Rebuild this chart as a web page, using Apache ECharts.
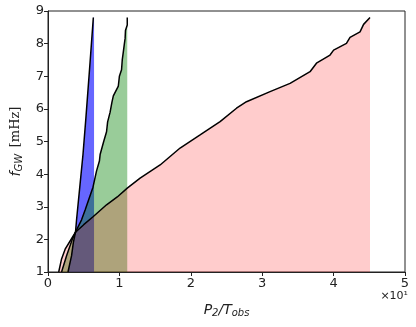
<!DOCTYPE html>
<html>
<head>
<meta charset="utf-8">
<script src="https://cdn.jsdelivr.net/npm/echarts@6/dist/echarts.min.js"></script>
<style>
  html, body { margin: 0; padding: 0; background: #fff; }
  #chart { width: 416px; height: 327px; }
</style>
</head>
<body>
<div id="chart"></div>
<script>
// x values are P2/Tobs (axis shows them x10^1), f values in mHz
const xTicks = [0, 10, 20, 30, 40, 50]
const fTicks = [1, 2, 3, 4, 5, 6, 7, 8, 9]

const blueF = [1.0, 1.5, 1.9, 2.22, 2.6, 3.6, 4.6, 5.7, 7.45, 8.8]
const blueX = [2.8, 3.3, 3.55, 3.85, 4.0, 4.45, 4.9, 5.3, 5.9, 6.35]
const blueEdge = 6.45

const greenF = [1.0, 1.5, 2.0, 2.22, 2.6, 2.9, 3.6, 4.1, 4.4, 4.6, 5.0, 5.3, 5.6, 5.9, 6.2, 6.4, 6.7, 7.0, 7.2, 7.5, 7.75, 8.0, 8.16, 8.4, 8.57, 8.8]
const greenX = [1.9, 2.6, 3.4, 3.85, 4.7, 5.2, 6.3, 6.8, 7.2, 7.3, 7.8, 8.2, 8.35, 8.7, 8.95, 9.15, 9.85, 10.0, 10.3, 10.4, 10.55, 10.7, 10.8, 10.85, 11.1, 11.1]
const greenEdge = 11.1

const redF = [1.0, 1.4, 1.7, 1.95, 2.22, 2.45, 2.7, 3.06, 3.3, 3.57, 3.88, 4.28, 4.8, 5.2, 5.61, 6.02, 6.22, 6.53, 6.78, 7.14, 7.4, 7.65, 7.8, 8.01, 8.19, 8.36, 8.59, 8.8]
const redX = [1.5, 1.9, 2.4, 3.1, 3.85, 5.0, 6.35, 8.2, 9.7, 11.1, 12.9, 15.7, 18.5, 21.3, 24.1, 26.4, 27.8, 31.1, 33.9, 36.7, 37.6, 39.5, 40.0, 41.8, 42.3, 43.7, 44.2, 45.1]
const redEdge = 45.1

const font = 'DejaVu Sans'

// region between the curve and its right edge, like fill_betweenx
function fillSeries(xs, fs, edge, color) {
  return {
    type: 'custom',
    coordinateSystem: 'cartesian2d',
    silent: true,
    data: [[xs[0], fs[0]]],
    renderItem: function (params, api) {
      const pts = xs.map((x, i) => api.coord([x, fs[i]]))
      pts.push(api.coord([edge, fs[fs.length - 1]]))
      pts.push(api.coord([edge, fs[0]]))
      return { type: 'polygon', shape: { points: pts }, style: { fill: color } }
    },
    z: 2
  }
}

function lineSeries(xs, fs) {
  return {
    type: 'line',
    data: xs.map((x, i) => [x, fs[i]]),
    symbol: 'none',
    silent: true,
    lineStyle: { color: '#000', width: 1.5 },
    z: 5
  }
}

const chart = echarts.init(document.getElementById('chart'))
chart.setOption({
  animation: false,
  grid: {
    left: 48, right: 11, top: 11, bottom: 55,
    show: true, borderColor: '#222', borderWidth: 1
  },
  xAxis: {
    type: 'value',
    min: xTicks[0],
    max: xTicks[xTicks.length - 1],
    interval: 10,
    splitLine: { show: false },
    axisLine: { lineStyle: { color: '#222' } },
    axisTick: { length: 4, lineStyle: { color: '#222' } },
    axisLabel: {
      color: '#222', fontFamily: font, fontSize: 13, margin: 5,
      formatter: v => String(v / 10)
    },
    name: '{i|P}{s|2}{n|/}{i|T}{s|obs}',
    nameLocation: 'middle',
    nameGap: 30,
    nameTextStyle: {
      rich: {
        i: { fontFamily: font, fontStyle: 'italic', fontSize: 14, color: '#222' },
        n: { fontFamily: font, fontStyle: 'italic', fontSize: 14, color: '#222' },
        s: { fontFamily: font, fontStyle: 'italic', fontSize: 10, color: '#222', padding: [6, 0, 0, 0] }
      }
    }
  },
  yAxis: {
    type: 'value',
    min: fTicks[0],
    max: fTicks[fTicks.length - 1],
    interval: 1,
    splitLine: { show: false },
    axisLine: { lineStyle: { color: '#222' } },
    axisTick: { length: 4, lineStyle: { color: '#222' } },
    axisLabel: { color: '#222', fontFamily: font, fontSize: 13, margin: 4 },
    name: '{i|f}{s|GW}  {n|[mHz]}',
    nameLocation: 'middle',
    nameGap: 24,
    nameRotate: 90,
    nameTextStyle: {
      rich: {
        i: { fontFamily: font, fontStyle: 'italic', fontSize: 14, color: '#222' },
        s: { fontFamily: font, fontStyle: 'italic', fontSize: 10, color: '#222', padding: [6, 0, 0, 0] },
        n: { fontFamily: 'DejaVu Serif', fontSize: 13, color: '#222' }
      }
    }
  },
  graphic: [{
    type: 'text',
    right: 8,
    top: 291,
    style: { text: '×10¹', font: '11px "DejaVu Sans"', fill: '#222' }
  }],
  series: [
    fillSeries(blueX, blueF, blueEdge, 'rgba(0,0,255,0.6)'),
    fillSeries(greenX, greenF, greenEdge, 'rgba(0,128,0,0.4)'),
    fillSeries(redX, redF, redEdge, 'rgba(255,0,0,0.2)'),
    lineSeries(blueX, blueF),
    lineSeries(greenX, greenF),
    lineSeries(redX, redF)
  ]
})
</script>
</body>
</html>
